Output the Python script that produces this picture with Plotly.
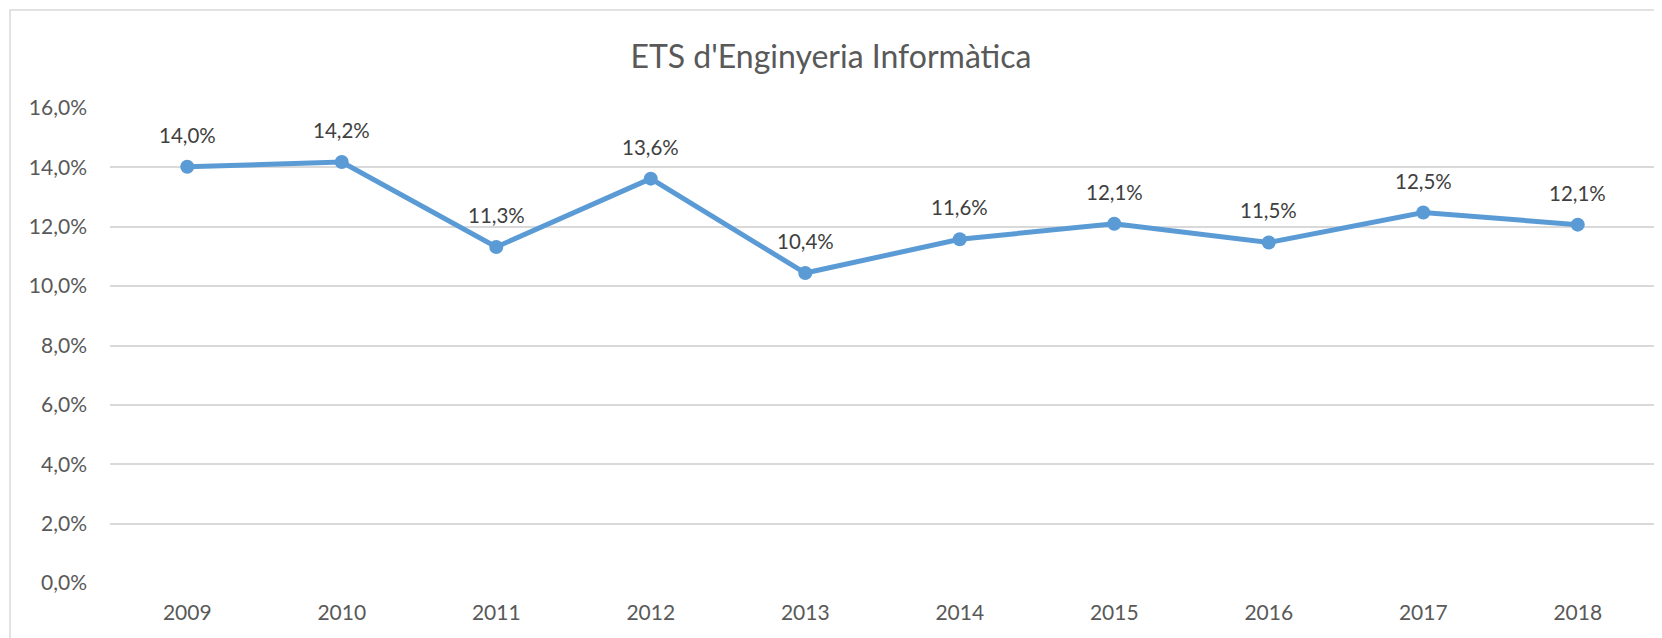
import plotly.graph_objects as go

years = ["2009", "2010", "2011", "2012", "2013", "2014", "2015", "2016", "2017", "2018"]
values = [14.02, 14.18, 11.32, 13.62, 10.44, 11.58, 12.10, 11.47, 12.48, 12.07]
y_ticks = [0, 2, 4, 6, 8, 10, 12, 14, 16]
y_tick_labels = ["0,0%", "2,0%", "4,0%", "6,0%", "8,0%", "10,0%", "12,0%", "14,0%", "16,0%"]
title_text = "ETS d'Enginyeria Informàtica"

FONT = "Lato, 'Open Sans', sans-serif"
# page body has an 8px default margin, so the figure is offset by 8px
OFF = 8
W, H = 1662 - OFF, 638 - OFF
L, R, T, B = 110 - OFF, 7, 108 - OFF, 55

fig = go.Figure()
fig.add_trace(go.Scatter(
    x=years, y=values, mode="lines+markers",
    line=dict(color="#5b9bd5", width=5),
    marker=dict(color="#5b9bd5", size=14),
    hoverinfo="skip", showlegend=False,
))

for i, v in enumerate(values):
    fig.add_annotation(
        x=i, y=v, xref="x", yref="y", text=f"{v:.1f}".replace(".", ",") + "%",
        showarrow=False, yshift=32,
        font=dict(family=FONT, size=20.5, color="#404040"),
    )

pw = W - L - R
ph = H - T - B
fig.add_shape(
    type="rect", xref="paper", yref="paper",
    x0=(10 - OFF - L) / pw, x1=(W + 20 - L) / pw,
    y0=-(B + 20) / ph, y1=(H - (10 - OFF) - B) / ph,
    line=dict(color="#d9d9d9", width=1.5), fillcolor="rgba(0,0,0,0)", layer="below",
)

fig.update_layout(
    width=W, height=H,
    margin=dict(l=L, r=R, t=T, b=B, pad=0, autoexpand=False),
    paper_bgcolor="white", plot_bgcolor="white",
    title=dict(text=title_text, x=(831 - OFF) / W, xanchor="center", y=1 - (57 - OFF) / H, yanchor="middle",
               font=dict(family=FONT, size=32, color="#595959")),
    xaxis=dict(type="category", range=[-0.5, 9.5], showgrid=False, zeroline=False,
               showline=False, ticks="", tickfont=dict(family=FONT, size=21, color="#595959"),
               ticklabelstandoff=15, fixedrange=True, automargin=False),
    yaxis=dict(range=[0, 16], tickvals=y_ticks, ticktext=y_tick_labels,
               showgrid=True, gridcolor="#d9d9d9", gridwidth=1.5, zeroline=False,
               showline=False, ticks="", tickfont=dict(family=FONT, size=21, color="#595959"),
               ticklabelstandoff=22, fixedrange=True, automargin=False),
)

fig.write_html("out.html")
